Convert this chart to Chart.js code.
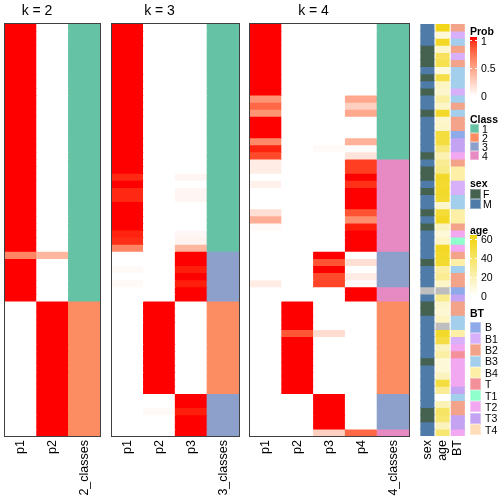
<!DOCTYPE html>
<html>
<head>
<meta charset="utf-8">
<script src="https://cdn.jsdelivr.net/npm/chart.js@4.4.1/dist/chart.umd.min.js"></script>
<style>
html,body{margin:0;padding:0;background:#ffffff;}
#stage{position:relative;width:504px;height:504px;overflow:hidden;background:#fff;font-family:"Liberation Sans",Arial,Helvetica,sans-serif;color:#000;}
#stage canvas{position:absolute;left:0;top:0;}
.ptitle{position:absolute;top:10px;font-size:14px;transform:translate(-50%,-50%);white-space:nowrap;line-height:1;}
.lgt{position:absolute;left:470px;font-size:10.5px;font-weight:bold;transform:translateY(-50%);line-height:1;white-space:nowrap;}
.lgl{position:absolute;font-size:10.5px;transform:translateY(-50%);line-height:1;white-space:nowrap;}
.sw{position:absolute;left:470px;box-sizing:border-box;border:1px solid rgba(255,255,255,0.35);}
.bar{position:absolute;left:470px;width:7px;}
.tick{position:absolute;height:1px;width:2px;background:#fff;}
</style>
</head>
<body>
<div id="stage">
<canvas id="c2" width="504" height="504"></canvas>
<canvas id="c3" width="504" height="504"></canvas>
<canvas id="c4" width="504" height="504"></canvas>
<canvas id="ca" width="504" height="504"></canvas>
<div id="overlay"></div>
</div>
<script>
// ---------------- DATA ----------------
const ROWS = 58;
const k2Labels = ['p1', 'p2', '2_classes'];
const k3Labels = ['p1', 'p2', 'p3', '3_classes'];
const k4Labels = ['p1', 'p2', 'p3', 'p4', '4_classes'];
const annLabels = ['sex', 'age', 'BT'];
const panelTitles = ['k = 2', 'k = 3', 'k = 4'];

const k2_p1 = [1,1,1,1,1,1,1,1,1,1, 1,1,1,1,1,1,1,1,1,1, 1,1,1,1,1,1,1,1,1,1, 1,1,0.62,1,1,1,1,1,1,0, 0,0,0,0,0,0,0,0,0,0, 0,0,0,0,0,0,0,0];
const k2_p2 = [0,0,0,0,0,0,0,0,0,0, 0,0,0,0,0,0,0,0,0,0, 0,0,0,0,0,0,0,0,0,0, 0,0,0.38,0,0,0,0,0,0,1, 1,1,1,1,1,1,1,1,1,1, 1,1,1,1,1,1,1,1];
const k2_class = [1,1,1,1,1,1,1,1,1,1, 1,1,1,1,1,1,1,1,1,1, 1,1,1,1,1,1,1,1,1,1, 1,1,1,1,1,1,1,1,1,2, 2,2,2,2,2,2,2,2,2,2, 2,2,2,2,2,2,2,2];

const k3_p1 = [1,1,1,1,1,1,1,1,1,1, 1,1,1,1,1,1,1,1,1,1, 1,0.95,1,0.95,0.95,1,1,1,1,0.96, 0.94,0.62,0,0,0.03,0,0.03,0,0,0, 0,0,0,0,0,0,0,0,0,0, 0,0,0,0,0,0,0,0];
const k3_p2 = [0,0,0,0,0,0,0,0,0,0, 0,0,0,0,0,0,0,0,0,0, 0,0,0,0,0,0,0,0,0,0, 0,0,0,0,0,0,0,0,0,1, 1,1,1,1,1,1,1,1,1,1, 1,1,0,0,0.03,0,0,0];
const k3_p3 = [0,0,0,0,0,0,0,0,0,0, 0,0,0,0,0,0,0,0,0,0, 0,0.05,0,0.05,0.05,0,0,0,0,0.04, 0.06,0.38,1,1,0.97,1,0.97,1,1,0, 0,0,0,0,0,0,0,0,0,0, 0,0,1,1,0.97,1,1,1];
const k3_class = [1,1,1,1,1,1,1,1,1,1, 1,1,1,1,1,1,1,1,1,1, 1,1,1,1,1,1,1,1,1,1, 1,1,3,3,3,3,3,3,3,2, 2,2,2,2,2,2,2,2,2,2, 2,2,3,3,3,3,3,3];

const k4_p1 = [1,1,1,1,1,1,1,1,1,1, 0.55,0.75,0.55,1,1,1,0.6,0.96,0.86,0.1, 0.1,0,0.07,0,0,0,0.17,0.42,0.03,0, 0,0,0,0,0,0,0.1,0,0,0, 0,0,0,0,0,0,0,0,0,0, 0,0,0,0,0,0,0,0];
const k4_p2 = [0,0,0,0,0,0,0,0,0,0, 0,0,0,0,0,0,0,0,0,0, 0,0,0,0,0,0,0,0,0,0, 0,0,0,0,0,0,0,0,0,1, 1,1,1,0.82,1,1,1,1,1,1, 1,1,0,0,0,0,0,0];
const k4_p3 = [0,0,0,0,0,0,0,0,0,0, 0,0,0,0,0,0,0,0.03,0,0, 0,0,0,0,0,0,0,0,0,0, 0,0,1,0.83,1,0.86,0.88,0,0,0, 0,0,0,0.18,0,0,0,0,0,0, 0,0,1,1,1,1,1,0.25];
const k4_p4 = [0,0,0,0,0,0,0,0,0,0, 0.45,0.25,0.45,0,0,0,0.4,0.01,0.14,0.9, 0.9,1,0.93,1,1,1,0.83,0.58,0.97,1, 1,1,0,0.17,0,0.1,0.02,1,1,0, 0,0,0,0,0,0,0,0,0,0, 0,0,0,0,0,0,0,0.75];
const k4_class = [1,1,1,1,1,1,1,1,1,1, 1,1,1,1,1,1,1,1,1,4, 4,4,4,4,4,4,4,4,4,4, 4,4,3,3,3,3,3,4,4,2, 2,2,2,2,2,2,2,2,2,2, 2,2,3,3,3,3,3,4];

const sex = ['M','M','M','F','F','F','M','F','M','F', 'M','M','F','M','M','M','M','M','F','M', 'F','F','M','F','M','M','F','M','F','M', 'M','M','M','F','M','M','M',null,'M','F', 'F','M','M','M','M','M','M','F','M','M', 'M','M','M','M','F','F','M','M'];
const age = [60,10,56,13,42,46,9,47,16,13, 24,15,55,13,15,50,50,34,20,28, 31,55,54,55,53,13,52,56,17,10, 15,56,55,54,24,28,15,null,30,13, 11,16,null,55,48,17,24,10,10,17, 50,28,0,19,40,37,17,37];
const bt = ['B2','B1','B3','B2','B1','B2','B3','B3','B3','B1', 'B3','B2','B3','B2','B2','B','T3','T3','T2','B2', 'B4','B4','B1','B1','B3','B3','B4','B4','B2','T2', 'T1','T2','B2','B4','B3','B2','B2','B','T3','B2', 'B2','B3','B3','B4','B1','T2','T','T2','T2','T2', 'T2','T3','B3','B2','B2','T3','T3','T2'];

const probTicks = [1, 0.5, 0];
const ageTicks = [60, 40, 20, 0];
const classLevels = ['1', '2', '3', '4'];
const sexLevels = ['F', 'M'];
const btLevels = ['B','B1','B2','B3','B4','T','T1','T2','T3','T4'];

// ---------------- STYLES ----------------
const FONT = '"Liberation Sans", Arial, Helvetica, sans-serif';
const classColors = {1:'#66C2A5', 2:'#FC8D62', 3:'#8DA0CB', 4:'#E78AC3'};
const sexColors = {F:'#456250', M:'#4F7BA9'};
const btColors = {B:'#8EAAE8', B1:'#D8B0FA', B2:'#F2A38A', B3:'#A3CEEC', B4:'#FDF0A6', T:'#F39099', T1:'#8FFFCB', T2:'#F2A8F0', T3:'#C3A3F2', T4:'#FFDDB8'};
const naColor = '#BEBEBE';
const ageTop = [242, 214, 23];
const ageMax = 60;

// colour helpers (LAB interpolation white -> red, like colorRamp2)
function s2l(c){c/=255;return c<=0.04045?c/12.92:Math.pow((c+0.055)/1.055,2.4);}
function l2s(c){c=c<=0.0031308?12.92*c:1.055*Math.pow(c,1/2.4)-0.055;return Math.round(Math.max(0,Math.min(1,c))*255);}
function rgb2lab(rgb){
  const r=s2l(rgb[0]),g=s2l(rgb[1]),b=s2l(rgb[2]);
  let X=(0.4124*r+0.3576*g+0.1805*b)/0.95047, Y=(0.2126*r+0.7152*g+0.0722*b), Z=(0.0193*r+0.1192*g+0.9505*b)/1.08883;
  const f=t=>t>0.008856?Math.cbrt(t):7.787*t+16/116;
  const fx=f(X),fy=f(Y),fz=f(Z);
  return [116*fy-16, 500*(fx-fy), 200*(fy-fz)];
}
function lab2rgb(lab){
  const fy=(lab[0]+16)/116, fx=fy+lab[1]/500, fz=fy-lab[2]/200;
  const fi=t=>t>0.206893?t*t*t:(t-16/116)/7.787;
  const X=fi(fx)*0.95047, Y=fi(fy), Z=fi(fz)*1.08883;
  const r= 3.2406*X-1.5372*Y-0.4986*Z, g=-0.9689*X+1.8758*Y+0.0415*Z, b=0.0557*X-0.2040*Y+1.0570*Z;
  return [l2s(r),l2s(g),l2s(b)];
}
const LAB_W = rgb2lab([255,255,255]), LAB_R = rgb2lab([255,0,0]);
function probColor(v){
  const t=Math.max(0,Math.min(1,v));
  const c=lab2rgb([0,1,2].map(i=>LAB_W[i]+(LAB_R[i]-LAB_W[i])*t));
  return 'rgb('+c.join(',')+')';
}
function ageColor(v){
  if(v===null||v===undefined) return naColor;
  const t=Math.max(0,Math.min(1,v/ageMax));
  const c=[0,1,2].map(i=>Math.round(255+(ageTop[i]-255)*t));
  return 'rgb('+c.join(',')+')';
}

// ---------------- CHARTS ----------------
const borderPlugin = {
  id:'panelBorder',
  afterDatasetsDraw(chart, args, opts){
    if(!opts.draw) return;
    const a=chart.chartArea, c=chart.ctx;
    c.save(); c.strokeStyle=opts.color; c.lineWidth=1;
    c.strokeRect(Math.round(a.left)-0.5, Math.round(a.top)-0.5, Math.round(a.right)-Math.round(a.left)+1, Math.round(a.bottom)-Math.round(a.top)+1);
    c.restore();
  }
};

function makePanel(id, labels, getters, area){
  const datasets=[];
  for(let r=0;r<ROWS;r++){
    datasets.push({
      label:'row '+(r+1),
      data:labels.map(()=>1),
      backgroundColor:getters.map(g=>g(r)),
      borderWidth:0,
      inflateAmount:area.inflate,
      categoryPercentage:1,
      barPercentage:area.barPct
    });
  }
  return new Chart(document.getElementById(id),{
    type:'bar',
    data:{labels, datasets},
    options:{
      responsive:false, animation:false, devicePixelRatio:1,
      layout:{padding:{left:area.left, right:504-area.right, top:24, bottom:0}},
      plugins:{legend:{display:false}, tooltip:{enabled:false}, title:{display:false},
               panelBorder:{draw:area.border, color:'#404040'}},
      scales:{
        x:{type:'category', stacked:true, offset:true,
           grid:{display:false, drawTicks:false, tickLength:0}, border:{display:false},
           ticks:{minRotation:90, maxRotation:90, autoSkip:false, padding:4, color:'#000', font:{family:FONT, size:12.5}},
           afterFit(s){ s.height=68; }},
        y:{type:'linear', stacked:true, min:0, max:ROWS, reverse:true, display:false}
      }
    },
    plugins:[borderPlugin]
  });
}

const P = a => r => probColor(a[r]);
const C = a => r => classColors[a[r]];

makePanel('c2', k2Labels, [P(k2_p1), P(k2_p2), C(k2_class)], {left:5, right:100.3, barPct:1, inflate:0.5, border:true});
makePanel('c3', k3Labels, [P(k3_p1), P(k3_p2), P(k3_p3), C(k3_class)], {left:111.7, right:239, barPct:1, inflate:0.5, border:true});
makePanel('c4', k4Labels, [P(k4_p1), P(k4_p2), P(k4_p3), P(k4_p4), C(k4_class)], {left:250, right:409, barPct:1, inflate:0.5, border:true});
makePanel('ca', annLabels, [r => sex[r]===null?naColor:sexColors[sex[r]], r => ageColor(age[r]), r => btColors[bt[r]]], {left:419.8, right:465.4, barPct:0.86, inflate:0.5, border:false});

// ---------------- TITLES & LEGENDS ----------------
const ov=document.getElementById('overlay');
function el(cls, css, text){
  const d=document.createElement('div'); d.className=cls; Object.assign(d.style, css);
  if(text!==undefined) d.textContent=text; ov.appendChild(d); return d;
}
[37, 159.5, 313.5].forEach((x,i)=>el('ptitle',{left:x+'px'}, panelTitles[i]));

// Prob legend
el('lgt',{top:'30.5px'},'Prob');
const probStops=[];
for(let i=0;i<=10;i++){ probStops.push(probColor(1-i/10)+' '+(i*10)+'%'); }
el('bar',{top:'37px',height:'59px',background:'linear-gradient(to bottom,'+probStops.join(',')+')'});
const probY = v => 95.9 - v*55.2;
probTicks.forEach(v=>{
  const y=probY(v);
  if(v>0){ el('tick',{left:'470px',top:(y-0.5)+'px'}); el('tick',{left:'475px',top:(y-0.5)+'px'}); }
  el('lgl',{left:'481px',top:y+'px'}, String(v));
});

// Class legend
el('lgt',{top:'119px'},'Class');
classLevels.forEach((lv,i)=>{
  el('sw',{top:(124.3+9*i)+'px',width:'9px',height:'9px',background:classColors[lv]});
  el('lgl',{left:'482px',top:(128.8+9*i)+'px'}, lv);
});

// sex legend
el('lgt',{top:'182.7px'},'sex');
sexLevels.forEach((lv,i)=>{
  el('sw',{top:(189.3+9.7*i)+'px',width:'10.5px',height:'9.7px',background:sexColors[lv]});
  el('lgl',{left:'483px',top:(194.2+9.7*i)+'px'}, lv);
});

// age legend
el('lgt',{top:'230px'},'age');
const ageY = v => 296 - v*0.95;
const ageStops=[];
for(let i=0;i<=10;i++){ const y=235+i*6.1; const v=(296-y)/0.95; ageStops.push(ageColor(v)+' '+(i*10)+'%'); }
el('bar',{top:'235px',height:'61px',background:'linear-gradient(to bottom,'+ageStops.join(',')+')'});
ageTicks.forEach(v=>{
  const y=ageY(v);
  if(v>0){ el('tick',{left:'470px',top:(y-0.5)+'px'}); el('tick',{left:'475px',top:(y-0.5)+'px'}); }
  el('lgl',{left:'481px',top:y+'px'}, String(v));
});

// BT legend
el('lgt',{top:'313.3px'},'BT');
btLevels.forEach((lv,i)=>{
  el('sw',{top:(321.7+11.35*i)+'px',width:'11.3px',height:'11.35px',background:btColors[lv]});
  el('lgl',{left:'485px',top:(327.4+11.35*i)+'px'}, lv);
});
</script>
</body>
</html>
